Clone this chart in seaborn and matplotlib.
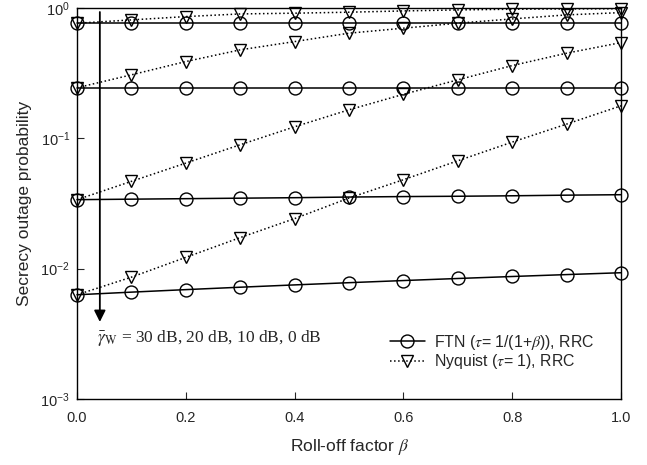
import numpy as np
import pandas as pd
import matplotlib
matplotlib.use("Agg")
import matplotlib.pyplot as plt
from matplotlib.lines import Line2D
import seaborn as sns

# ---- data ----
beta = [0.0, 0.1, 0.2, 0.3, 0.4, 0.5, 0.6, 0.7, 0.8, 0.9, 1.0]
snr_labels = ["30 dB", "20 dB", "10 dB", "0 dB"]

ftn_30 = [0.0063, 0.0066, 0.0069, 0.0072, 0.0075, 0.0078, 0.0081, 0.0084, 0.0087, 0.0090, 0.0093]
ftn_20 = [0.0338, 0.0341, 0.0344, 0.0347, 0.0350, 0.0354, 0.0357, 0.0359, 0.0362, 0.0366, 0.0369]
ftn_10 = [0.244, 0.244, 0.244, 0.244, 0.244, 0.244, 0.244, 0.244, 0.244, 0.244, 0.244]
ftn_0 = [0.763, 0.763, 0.763, 0.763, 0.763, 0.763, 0.763, 0.763, 0.763, 0.763, 0.763]

nyq_30 = [0.0063, 0.0086, 0.0122, 0.0173, 0.0242, 0.0348, 0.0481, 0.0672, 0.0935, 0.1285, 0.1774]
nyq_20 = [0.0338, 0.0467, 0.0645, 0.0892, 0.1225, 0.1654, 0.2174, 0.2807, 0.3612, 0.4496, 0.542]
nyq_10 = [0.244, 0.3066, 0.3877, 0.4768, 0.5517, 0.6399, 0.6988, 0.7634, 0.8234, 0.8839, 0.9204]
nyq_0 = [0.763, 0.809, 0.858, 0.899, 0.911, 0.927, 0.948, 0.965, 0.977, 0.982, 0.985]

legend_labels = [r"FTN ($\tau$= 1/(1+$\beta$)), RRC", r"Nyquist ($\tau$= 1), RRC"]

# ---- build long table ----
rows = []
for scheme, series in (("FTN", [ftn_30, ftn_20, ftn_10, ftn_0]),
                       ("Nyquist", [nyq_30, nyq_20, nyq_10, nyq_0])):
    for snr, vals in zip(snr_labels, series):
        for b, v in zip(beta, vals):
            rows.append({"beta": b, "P": v, "scheme": scheme, "snr": snr})
df = pd.DataFrame(rows)

sns.set_style("ticks")
plt.rcParams["font.family"] = ["Liberation Sans", "DejaVu Sans"]
plt.rcParams["mathtext.fontset"] = "stix"
plt.rcParams["axes.unicode_minus"] = False
plt.rcParams["xtick.direction"] = "in"
plt.rcParams["ytick.direction"] = "in"

fig = plt.figure(figsize=(6.47, 4.65), dpi=100)
ax = fig.add_axes([0.119, 0.142, 0.841, 0.841])

styles = {
    "FTN": dict(marker="o", linestyle="-"),
    "Nyquist": dict(marker="v", linestyle=":"),
}
for scheme in ["FTN", "Nyquist"]:
    for snr in snr_labels:
        sub = df[(df.scheme == scheme) & (df.snr == snr)]
        sns.lineplot(data=sub, x="beta", y="P", ax=ax, color="black",
                     marker=styles[scheme]["marker"], linestyle=styles[scheme]["linestyle"],
                     markersize=9.3, markerfacecolor="none", markeredgecolor="black",
                     markeredgewidth=1.0, linewidth=1.1, legend=False, clip_on=False,
                     zorder=3)

ax.set_yscale("log")
ax.set_xlim(0, 1.0)
ax.set_ylim(1e-3, 1e0)
ax.set_xticks([0.0, 0.2, 0.4, 0.6, 0.8, 1.0])
ax.set_xticklabels(["0.0", "0.2", "0.4", "0.6", "0.8", "1.0"])
ax.yaxis.set_minor_locator(matplotlib.ticker.NullLocator())
ax.tick_params(axis="both", which="major", labelsize=10.5, length=5, width=0.8,
               top=False, right=False)
ax.tick_params(axis="x", pad=9)
ax.tick_params(axis="y", pad=5)
for s in ax.spines.values():
    s.set_linewidth(1.0)
    s.set_color("black")

ax.set_xlabel(r"Roll-off factor $\beta$", fontsize=12.5, labelpad=8)
ax.set_ylabel("Secrecy outage probability", fontsize=12.5, labelpad=6)

# arrow and annotation
ax.annotate("", xy=(0.042, 0.0039), xytext=(0.042, 0.93),
            arrowprops=dict(arrowstyle="-|>", color="black", lw=1.3,
                            mutation_scale=17, shrinkA=0, shrinkB=0))
ax.text(0.037, 0.00296,
        r"$\bar{\gamma}_{\mathrm{W}}$ = 30 dB, 20 dB, 10 dB, 0 dB",
        fontsize=12.5, va="center", ha="left",
        family=["Liberation Serif", "DejaVu Serif"])

handles = [
    Line2D([], [], color="black", linestyle="-", marker="o", markersize=9.3,
           markerfacecolor="none", markeredgewidth=1.0, linewidth=1.1),
    Line2D([], [], color="black", linestyle=":", marker="v", markersize=9.3,
           markerfacecolor="none", markeredgewidth=1.0, linewidth=1.1),
]
ax.legend(handles, legend_labels, loc="center left", bbox_to_anchor=(0.563, 0.12),
          frameon=False, fontsize=11.4, handlelength=2.2, handletextpad=0.6,
          labelspacing=0.05, borderaxespad=0)

fig.savefig("out.png", dpi=100)
